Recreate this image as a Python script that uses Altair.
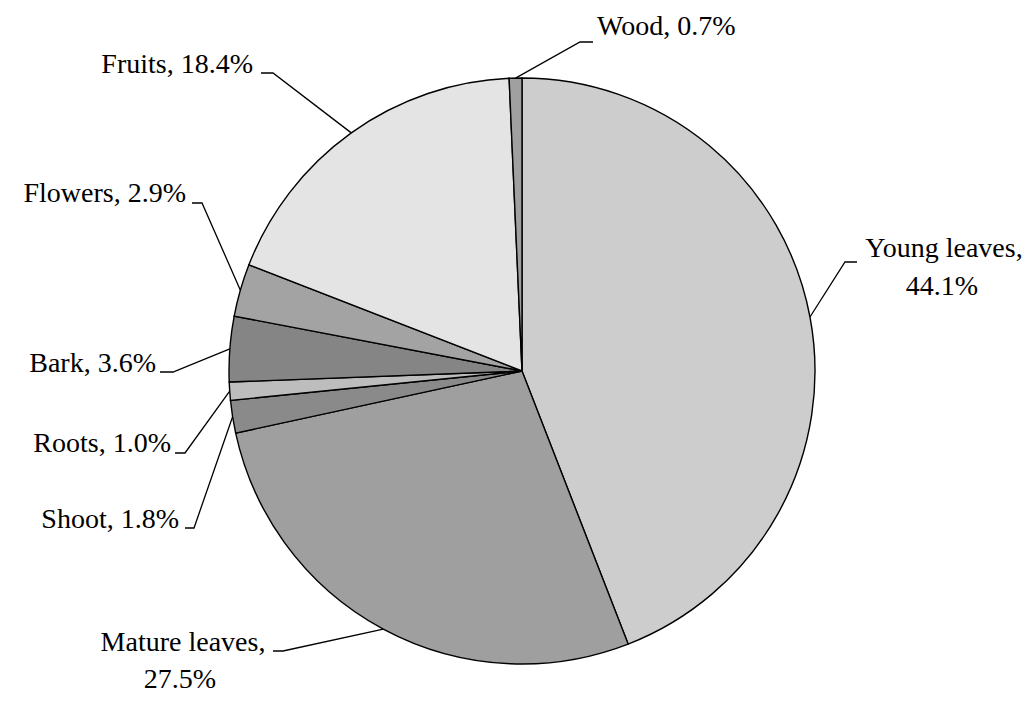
import math
import altair as alt
import pandas as pd

# ---- data ----
categories = ["Young leaves", "Mature leaves", "Shoot", "Roots", "Bark", "Flowers", "Fruits", "Wood"]
shares = [44.1, 27.5, 1.8, 1.0, 3.6, 2.9, 18.4, 0.7]

# ---- style ----
fills = ["#cdcdcd", "#9f9f9f", "#8a8a8a", "#bdbdbd", "#858585", "#a3a3a3", "#e4e4e4", "#a0a0a0"]
FONT = "Liberation Serif"
FS = 28

# ---- layout (page pixel coordinates, chart origin is at page offset 8) ----
W, H = 1014, 711
OFF = 8
CX, CY, R = 522 - OFF, 371 - OFF, 293

# label placement: leader path points (excluding slice edge point), side, text anchors
layout = {
    "Young leaves": dict(path=[(845, 262), (857, 262)], side="right",
                         text=[("{c},", 944, 257, "center"), ("{s}%", 942, 295, "center")]),
    "Mature leaves": dict(path=[(273, 651), (283, 651)], side="left",
                          text=[("{c},", 183, 651, "center"), ("{s}%", 180, 688, "center")]),
    "Shoot": dict(path=[(185, 528), (194, 528)], side="left",
                  text=[("{c}, {s}%", 179, 528, "right")]),
    "Roots": dict(path=[(175, 453), (185, 453)], side="left",
                  text=[("{c}, {s}%", 171, 452, "right")]),
    "Bark": dict(path=[(160, 372), (173, 372)], side="left",
                 text=[("{c}, {s}%", 156, 372, "right")]),
    "Flowers": dict(path=[(192, 203), (202, 203)], side="left",
                    text=[("{c}, {s}%", 186, 202, "right")]),
    "Fruits": dict(path=[(261, 73), (273, 73)], side="left",
                   text=[("{c}, {s}%", 253, 73, "right")]),
    "Wood": dict(path=[(580, 42), (593, 42)], side="right",
                 text=[("{c}, {s}%", 597, 35, "left")]),
}

pie_df = pd.DataFrame({"category": categories, "share": shares, "k": list(range(len(categories)))})

line_rows = []
text_rows = []
cum = 0.0
total = sum(shares)
for cat, s in zip(categories, shares):
    mid = (cum + s / 2) / total * 2 * math.pi
    cum += s
    ex = CX + R * math.sin(mid)
    ey = CY - R * math.cos(mid)
    lay = layout[cat]
    pts = [(px - OFF, py - OFF) for px, py in lay["path"]]
    if lay["side"] == "right":
        seq = [(ex, ey)] + pts
    else:
        seq = pts + [(ex, ey)]
    for i, (px, py) in enumerate(seq):
        line_rows.append({"category": cat, "i": i, "x": px, "y": py})
    for tmpl, tx, ty, al in lay["text"]:
        text_rows.append({"label": tmpl.format(c=cat, s=s), "x": tx - OFF, "y": ty - OFF, "align": al})

lines_df = pd.DataFrame(line_rows)
text_df = pd.DataFrame(text_rows)

xs = alt.Scale(domain=[0, W], range=[0, W])
ys = alt.Scale(domain=[0, H], range=[0, H])

pie = alt.Chart(pie_df).mark_arc(stroke="black", strokeWidth=1.4, outerRadius=R).encode(
    theta=alt.Theta("share:Q", stack=True),
    order=alt.Order("k:Q"),
    color=alt.Color("category:N", scale=alt.Scale(domain=categories, range=fills), legend=None),
    x=alt.value(CX),
    y=alt.value(CY),
)

leaders = alt.Chart(lines_df).mark_line(color="black", strokeWidth=1.3).encode(
    x=alt.X("x:Q", scale=xs, axis=None),
    y=alt.Y("y:Q", scale=ys, axis=None),
    detail="category:N",
    order="i:Q",
)

def text_layer(al):
    return alt.Chart(text_df[text_df["align"] == al]).mark_text(
        font=FONT, fontSize=FS, color="black", align=al, baseline="alphabetic"
    ).encode(
        x=alt.X("x:Q", scale=xs, axis=None),
        y=alt.Y("y:Q", scale=ys, axis=None),
        text="label:N",
    )

chart = alt.layer(
    pie, leaders, text_layer("left"), text_layer("right"), text_layer("center")
).properties(
    width=W, height=H, padding=0, autosize=alt.AutoSizeParams(type="none"), background="white"
).configure_view(stroke=None)

chart.save("out.html", embed_options={"renderer": "svg", "actions": False})
